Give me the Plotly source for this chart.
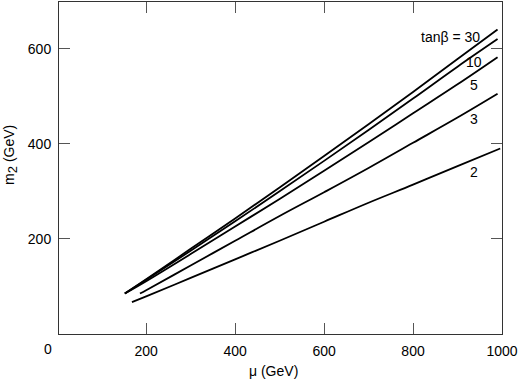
import plotly.graph_objects as go

# chargino-mass contours: m2 vs mu for several tan(beta)
mu_30 = [152, 200, 300, 400, 500, 600, 700, 800, 900, 990]
m2_30 = [85, 115, 179, 243, 308, 374, 441, 509, 578, 640]

mu_10 = [152, 200, 300, 400, 500, 600, 700, 800, 900, 990]
m2_10 = [85, 114, 175, 237, 300, 364, 429, 495, 562, 620]

mu_5 = [152, 200, 300, 400, 500, 600, 700, 800, 900, 990]
m2_5 = [85, 111, 168, 226, 284, 343, 403, 464, 525, 582]

mu_3 = [186, 200, 300, 400, 500, 600, 700, 800, 900, 990]
m2_3 = [85, 92, 144, 196, 248, 298, 349, 402, 455, 505]

mu_2 = [168, 200, 300, 400, 500, 600, 700, 800, 900, 996]
m2_2 = [67, 79, 118, 157, 196, 236, 276, 314, 353, 390]

labels = ["tanβ = 30", "10", "5", "3", "2"]
label_x = [955, 937, 937, 937, 937]
label_y = [625, 571, 524, 451, 340]

curves = [(mu_30, m2_30), (mu_10, m2_10), (mu_5, m2_5), (mu_3, m2_3), (mu_2, m2_2)]

font = "Liberation Sans, Arial, sans-serif"

fig = go.Figure()
for mu, m2 in curves:
    fig.add_trace(go.Scatter(x=mu, y=m2, mode="lines",
                             line=dict(color="black", width=1.8),
                             line_shape="spline", showlegend=False))

for i in range(len(labels)):
    fig.add_annotation(x=label_x[i], y=label_y[i], text=labels[i],
                       showarrow=False, xanchor="right" if i == 0 else "center",
                       yanchor="middle",
                       font=dict(size=14, color="black", family=font))

# origin label and axis titles
fig.add_annotation(xref="paper", yref="paper", x=-0.025, y=-0.045, text="0",
                   showarrow=False, xanchor="center", yanchor="middle",
                   font=dict(size=14, color="black", family=font))
fig.add_annotation(xref="paper", yref="paper", x=0.485, y=-0.11, text="μ (GeV)",
                   showarrow=False, xanchor="center", yanchor="middle",
                   font=dict(size=14, color="black", family=font))
fig.add_annotation(xref="paper", yref="paper", x=-0.108, y=0.54,
                   text="m<sub><span style='font-size:13px'>2</span></sub> (GeV)",
                   textangle=-90,
                   showarrow=False, xanchor="center", yanchor="middle",
                   font=dict(size=14, color="black", family=font))

fig.update_xaxes(range=[4, 1000], tickvals=[200, 400, 600, 800, 1000],
                 ticks="inside", ticklen=11, tickcolor="#555", tickwidth=1,
                 showline=True, linecolor="#333", linewidth=1, mirror="ticks",
                 showgrid=False, zeroline=False, ticklabelstandoff=4,
                 ticklabeloverflow="allow",
                 tickfont=dict(size=14, color="black", family=font))
fig.update_yaxes(range=[0, 698], tickvals=[200, 400, 600],
                 ticks="inside", ticklen=11, tickcolor="#555", tickwidth=1,
                 showline=True, linecolor="#333", linewidth=1, mirror="ticks",
                 showgrid=False, zeroline=False, ticklabelstandoff=4,
                 tickfont=dict(size=14, color="black", family=font))

fig.update_layout(width=519, height=381,
                  margin=dict(l=59, r=13, t=1, b=47),
                  plot_bgcolor="white", paper_bgcolor="white")

fig.write_html("out.html", config={"displayModeBar": False},
               post_script="document.body.style.margin='0';")
